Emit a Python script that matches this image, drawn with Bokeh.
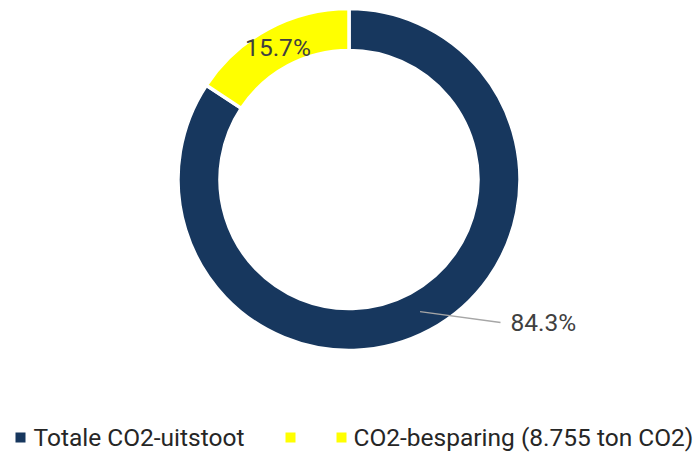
import numpy as np
from bokeh.plotting import figure
from bokeh.models import ColumnDataSource, Range1d
from bokeh.embed import file_html
from bokeh.resources import INLINE
from bokeh.core.properties import value

# ---- data ----
categories = ["Totale CO2-uitstoot", "CO2-besparing (8.755 ton CO2)"]
shares = [84.3, 15.7]
colors = ["#17375E", "#FFFF00"]
pct_labels = ["84.3%", "15.7%"]
legend_labels = ["Totale CO2-uitstoot", "", "CO2-besparing (8.755 ton CO2)"]
legend_colors = ["#17375E", "#FFFF00", "#FFFF00"]

FONT = "Roboto"
FS = "24.5px"

W, H = 696, 452


def X(sx):
    return sx


def Y(sy):
    return H - sy


p = figure(width=W, height=H, output_backend="svg", toolbar_location=None,
           x_range=Range1d(0, W), y_range=Range1d(0, H), min_border=0,
           x_axis_type=None, y_axis_type=None)
p.grid.visible = False
p.outline_line_color = None
p.background_fill_color = "white"
p.border_fill_color = "white"

# ---- donut ----
cx, cy = X(348.5), Y(179)
r_out, r_in = 171.0, 129.0
vals = np.array(shares, dtype=float)
frac = vals / vals.sum()
cum = np.cumsum(frac)
end_deg = 90 - 360 * cum            # clockwise from 12 o'clock
start_deg = end_deg + 360 * frac
src = ColumnDataSource(dict(
    start=np.deg2rad(end_deg), end=np.deg2rad(start_deg),
    color=colors, cat=categories))
p.annular_wedge(x=cx, y=cy, inner_radius=r_in, outer_radius=r_out,
                start_angle="start", end_angle="end", direction="anticlock",
                fill_color="color", line_color="white", line_width=3.5,
                source=src)

mid = np.deg2rad((end_deg + start_deg) / 2)
r_mid = 150.0
mx = cx + r_mid * np.cos(mid)
my = cy + r_mid * np.sin(mid)

# small slice: label inside
p.text(x=[mx[1]], y=[my[1]], text=[pct_labels[1]], text_align="center",
       text_baseline="middle", text_font=value(FONT), text_font_size=FS,
       text_color="#404040")

# large slice: label outside with leader line
ex, ey = X(500), Y(322)
p.line(x=[mx[0], ex], y=[my[0], ey], line_color="#A6A6A6", line_width=1.5)
p.text(x=[X(510)], y=[ey], text=[pct_labels[0]], text_align="left",
       text_baseline="middle", text_font=value(FONT), text_font_size=FS,
       text_color="#404040")

# ---- legend ----
leg_sq_x = [X(20), X(290), X(341)]
leg_y = Y(437)
p.rect(x=leg_sq_x, y=[leg_y] * 3, width=10, height=10,
       fill_color=legend_colors, line_color=None)
leg_text_x = [X(33), X(346), X(353)]
tx = [x for x, t in zip(leg_text_x, legend_labels) if t]
tt = [t for t in legend_labels if t]
p.text(x=tx, y=[leg_y] * len(tt), text=tt, text_align="left",
       text_baseline="middle", text_font=value(FONT), text_font_size=FS,
       text_color="#262626")

open("out.html", "w").write(file_html(p, INLINE))
